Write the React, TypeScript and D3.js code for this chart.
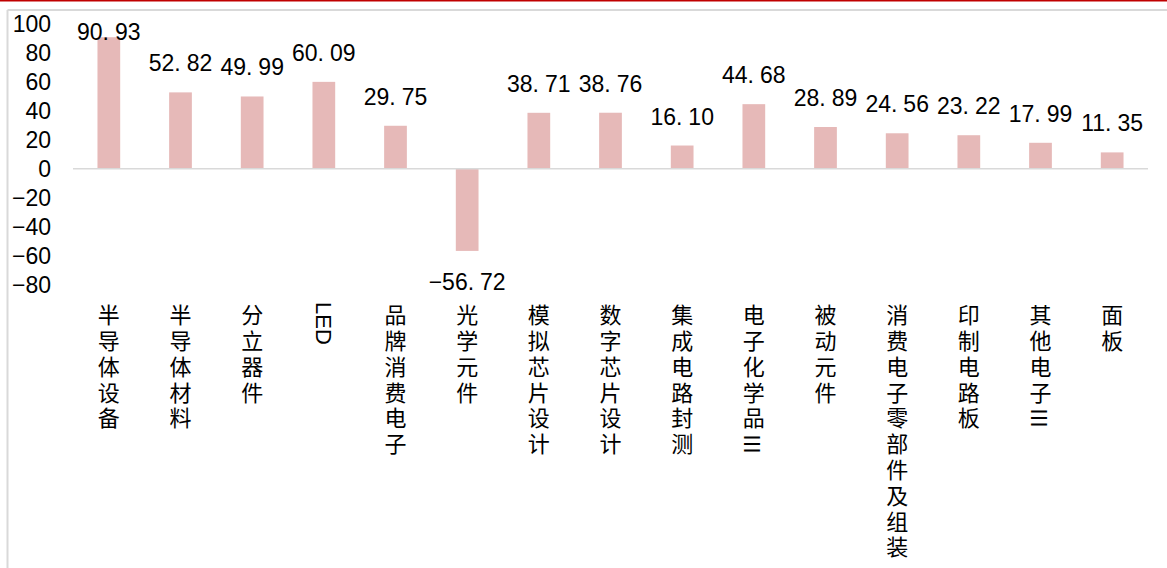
import React from "react";
import * as d3 from "d3";

// Industry categories (申万二级 electronics) and their values
const categories: string[] = [
  "半导体设备",
  "半导体材料",
  "分立器件",
  "LED",
  "品牌消费电子",
  "光学元件",
  "模拟芯片设计",
  "数字芯片设计",
  "集成电路封测",
  "电子化学品Ⅲ",
  "被动元件",
  "消费电子零部件及组装",
  "印制电路板",
  "其他电子Ⅲ",
  "面板",
];

const values: number[] = [
  90.93, 52.82, 49.99, 60.09, 29.75, -56.72, 38.71, 38.76, 16.1, 44.68, 28.89,
  24.56, 23.22, 17.99, 11.35,
];

const yTicks: number[] = [100, 80, 60, 40, 20, 0, -20, -40, -60, -80];

const W = 1167;
const H = 568;
const BAR_COLOR = "#E6B9B8";
const GRID_COLOR = "#D9D9D9";
const NUM_FONT = "'Liberation Sans', Arial, sans-serif";
const CJK_FONT = "'Noto Sans CJK SC', sans-serif";
const CJK_SIZE = 22;
const CJK_STEP = 25.8;

const fmtTick = d3.format("d");
const fmtVal = d3.format(".2f");

const isCJK = (ch: string) => /[\u3400-\u9fff]/.test(ch);

// Value label with a little extra room after the decimal point
function ValueLabel({ x, y, v }: { x: number; y: number; v: number }) {
  const s = fmtVal(v);
  const i = s.indexOf(".");
  return (
    <text
      x={x}
      y={y}
      textAnchor="middle"
      fontFamily={NUM_FONT}
      fontSize={23}
      fill="#000"
    >
      {s.slice(0, i + 1)}
      <tspan dx={6}>{s.slice(i + 1)}</tspan>
    </text>
  );
}

// Vertical category label: CJK runs set top-to-bottom, other runs turned sideways
function VerticalLabel({ x, top, label }: { x: number; top: number; label: string }) {
  const runs: { text: string; cjk: boolean; y: number }[] = [];
  let y = top;
  const chars = Array.from(label);
  let k = 0;
  while (k < chars.length) {
    const cjk = isCJK(chars[k]);
    let run = "";
    while (k < chars.length && isCJK(chars[k]) === cjk) {
      run += chars[k];
      k += 1;
    }
    runs.push({ text: run, cjk, y });
    if (cjk) y += run.length * CJK_STEP;
    else y += run === "Ⅲ" ? CJK_STEP : run.length * 13;
  }
  return (
    <g>
      {runs.map((r, i) =>
        r.cjk ? (
          <text
            key={i}
            x={x}
            y={r.y + (CJK_STEP - CJK_SIZE) / 2}
            style={{ writingMode: "vertical-rl" }}
            letterSpacing={CJK_STEP - CJK_SIZE}
            fontFamily={CJK_FONT}
            fontSize={CJK_SIZE}
            fill="#000"
          >
            {r.text}
          </text>
        ) : r.text === "Ⅲ" ? (
          <text
            key={i}
            transform={`translate(${x},${r.y + CJK_STEP / 2}) rotate(90)`}
            textAnchor="middle"
            dominantBaseline="central"
            fontFamily={CJK_FONT}
            fontSize={CJK_SIZE}
            fill="#000"
          >
            {r.text}
          </text>
        ) : (
          <text
            key={i}
            transform={`translate(${x},${r.y}) rotate(90)`}
            dominantBaseline="central"
            fontFamily={NUM_FONT}
            fontSize={CJK_SIZE}
            fill="#000"
          >
            {r.text}
          </text>
        )
      )}
    </g>
  );
}

export default function App() {
  const x = d3
    .scaleBand<string>()
    .domain(categories)
    .range([73, 1148])
    .paddingInner(0.683)
    .paddingOuter(0.3415);

  const y = d3.scaleLinear().domain([-80, 100]).range([284.6, 24.1]);
  const y0 = y(0);
  const plotTop = y(100);

  return (
    <div style={{ position: "fixed", left: 0, top: 0 }}>
      <svg width={W} height={H} style={{ display: "block", background: "#fff" }}>
        {/* page header rule and chart frame */}
        <rect x={0} y={0} width={W} height={1.5} fill="#C00000" />
        <line x1={7.5} y1={10} x2={W} y2={10} stroke={GRID_COLOR} strokeWidth={2} />
        <line x1={7.5} y1={10} x2={7.5} y2={H} stroke={GRID_COLOR} strokeWidth={2} />

        {/* y tick labels */}
        {yTicks.map((t) => (
          <text
            key={t}
            x={51}
            y={y(t)}
            textAnchor="end"
            dominantBaseline="central"
            fontFamily={NUM_FONT}
            fontSize={23}
            fill="#000"
          >
            {fmtTick(t)}
          </text>
        ))}

        {/* bars */}
        {categories.map((c, i) => {
          const v = values[i];
          const top = Math.min(y(v), y0);
          const h = Math.abs(y(v) - y0);
          return (
            <rect
              key={c}
              x={x(c)}
              y={top}
              width={x.bandwidth()}
              height={h}
              fill={BAR_COLOR}
            />
          );
        })}

        {/* zero line */}
        <line x1={73} x2={1148} y1={y0} y2={y0} stroke={GRID_COLOR} strokeWidth={1.5} />

        {/* value labels */}
        {categories.map((c, i) => {
          const v = values[i];
          const cx = (x(c) as number) + x.bandwidth() / 2;
          const by =
            v >= 0 ? Math.max(y(v) - 21, plotTop + 16) : y(v) + 39;
          return <ValueLabel key={c} x={cx} y={by} v={v} />;
        })}

        {/* category labels */}
        {categories.map((c) => (
          <VerticalLabel
            key={c}
            x={(x(c) as number) + x.bandwidth() / 2}
            top={302}
            label={c}
          />
        ))}
      </svg>
    </div>
  );
}
